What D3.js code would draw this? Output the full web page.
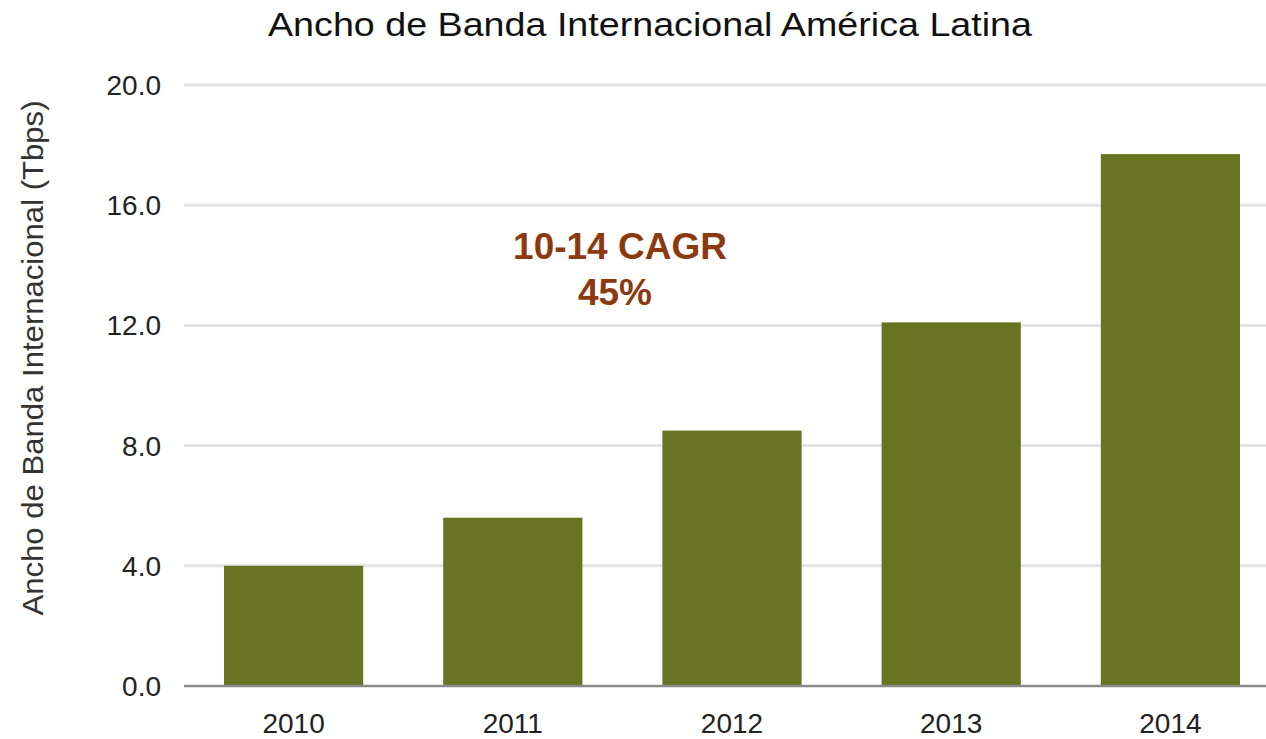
<!DOCTYPE html>
<html lang="es">
    <head>
        <title>Ancho de Banda Internacional</title>
        <meta charset="UTF-8">
        <script src="https://d3js.org/d3.v7.min.js"></script>
        <style>
            body { margin: 0; background: #fff; }
            text { font-family: "Liberation Sans", Arial, Helvetica, sans-serif; }
        </style>
    </head>
    <body>
        <script>
            // datos
            const years = ["2010", "2011", "2012", "2013", "2014"]
            const bandwidth = [4.0, 5.6, 8.5, 12.1, 17.7]
            const yTicks = [0, 4, 8, 12, 16, 20]

            const width = 1266
            const height = 739

            const svg = d3.select("body")
                .append("svg")
                .attr("width", width)
                .attr("height", height)

            const x = d3.scaleBand()
                .domain(years)
                .range([184, 1280])
                .paddingInner(0.365)
                .paddingOuter(0.1824)

            const y = d3.scaleLinear()
                .domain([0, 20])
                .range([686, 85])

            // lineas de cuadricula
            svg.append("g")
                .selectAll("line")
                .data(yTicks.slice(1))
                .enter()
                .append("line")
                .attr("x1", 184)
                .attr("x2", width)
                .attr("y1", d => y(d))
                .attr("y2", d => y(d))
                .attr("stroke", "#e3e3e3")
                .attr("stroke-width", 3)

            // barras
            svg.append("g")
                .selectAll("rect")
                .data(bandwidth)
                .enter()
                .append("rect")
                .attr("x", (d, i) => x(years[i]))
                .attr("y", d => y(d))
                .attr("width", x.bandwidth())
                .attr("height", d => y(0) - y(d))
                .attr("fill", "#687422")

            // eje x
            svg.append("line")
                .attr("x1", 184)
                .attr("x2", width)
                .attr("y1", y(0))
                .attr("y2", y(0))
                .attr("stroke", "#8a8a8a")
                .attr("stroke-width", 2.5)

            svg.append("g")
                .selectAll("text")
                .data(years)
                .enter()
                .append("text")
                .attr("x", d => x(d) + x.bandwidth() / 2)
                .attr("y", 733)
                .attr("text-anchor", "middle")
                .attr("fill", "#222")
                .style("font-size", "28px")
                .text(d => d)

            // eje y
            svg.append("g")
                .selectAll("text")
                .data(yTicks)
                .enter()
                .append("text")
                .attr("x", 161)
                .attr("y", d => y(d) + 10)
                .attr("text-anchor", "end")
                .attr("fill", "#222")
                .style("font-size", "28px")
                .text(d => d.toFixed(1))

            svg.append("text")
                .attr("transform", "translate(43, 358) rotate(-90)")
                .attr("text-anchor", "middle")
                .attr("fill", "#333")
                .style("font-size", "29px")
                .attr("textLength", 515)
                .attr("lengthAdjust", "spacingAndGlyphs")
                .text("Ancho de Banda Internacional (Tbps)")

            // titulo
            svg.append("text")
                .attr("x", 650)
                .attr("y", 36)
                .attr("text-anchor", "middle")
                .attr("fill", "#111")
                .style("font-size", "34px")
                .attr("textLength", 764)
                .attr("lengthAdjust", "spacingAndGlyphs")
                .text("Ancho de Banda Internacional América Latina")

            // anotacion
            svg.append("text")
                .attr("x", 620)
                .attr("y", 259)
                .attr("text-anchor", "middle")
                .attr("fill", "#8b3a10")
                .style("font-size", "37px")
                .style("font-weight", "bold")
                .text("10-14 CAGR")

            svg.append("text")
                .attr("x", 615)
                .attr("y", 305)
                .attr("text-anchor", "middle")
                .attr("fill", "#8b3a10")
                .style("font-size", "37px")
                .style("font-weight", "bold")
                .text("45%")
        </script>
    </body>
</html>
